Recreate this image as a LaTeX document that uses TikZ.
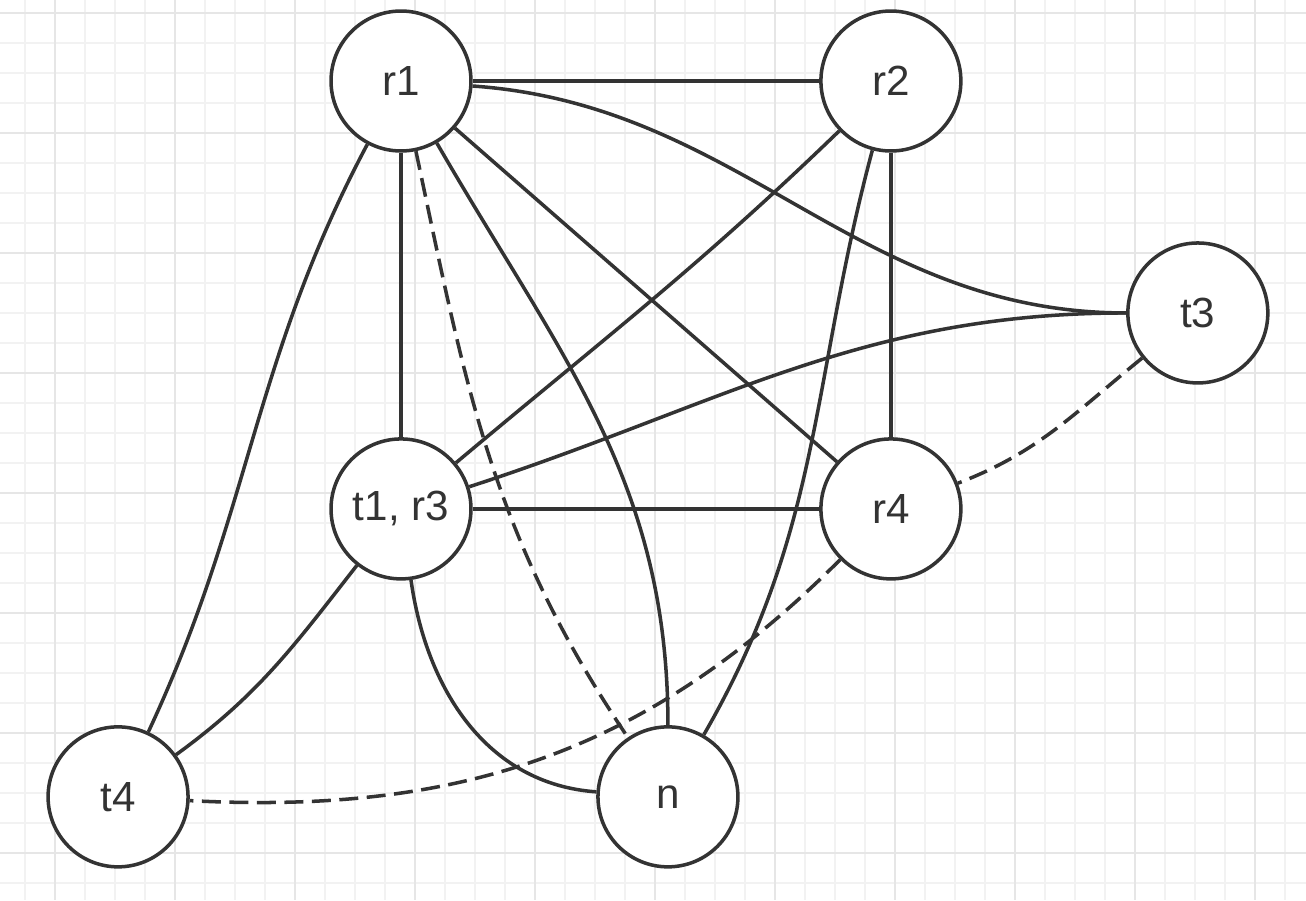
\documentclass[tikz,border=0pt]{standalone}
\usepackage{fontspec}
\setmainfont{Liberation Sans}
\usepackage{xcolor}
\usetikzlibrary{positioning}
\definecolor{edgegray}{HTML}{333333}
\definecolor{gridminor}{HTML}{F2F2F2}
\definecolor{gridmajor}{HTML}{E6E6E6}

\begin{document}
\begin{tikzpicture}[
    x=0.02cm, y=0.02cm,
    state/.style={circle, draw=edgegray, line width=2pt, fill=white, minimum size=2.8cm, inner sep=0pt, text=edgegray, font=\fontsize{24}{28}\selectfont},
    link/.style={draw=edgegray, line width=2pt},
    maybe/.style={link, dash pattern=on 0.38cm off 0.17cm},
    on grid
]
    \useasboundingbox (0,0) rectangle (1306,-900);
    \fill[white] (0,0) rectangle (1306,-900);
    % background grid
    \foreach \x in {25,55,...,1285} \draw[gridminor, line width=0.6pt] (\x,0) -- (\x,-900);
    \foreach \y in {13,43,...,883} \draw[gridminor, line width=0.6pt] (0,-\y) -- (1306,-\y);
    \foreach \x in {55,175,...,1255} \draw[gridmajor, line width=0.8pt] (\x,0) -- (\x,-900);
    \foreach \y in {13,133,...,853} \draw[gridmajor, line width=0.8pt] (0,-\y) -- (1306,-\y);

    \node[state] (r1) at (401,-81) {r1};
    \node[state, right=9.8cm of r1] (r2) {r2};
    \node[state, below=8.56cm of r1] (t1r3) {t1, r3};
    \node[state, right=9.8cm of t1r3] (r4) {r4};
    \node[state, below right=4.64cm and 6.14cm of r2] (t3) {t3};
    \node[state, below left=5.76cm and 5.66cm of t1r3] (t4) {t4};
    \node[state, below right=5.76cm and 5.34cm of t1r3] (n) {n};

    \draw[link] (r1) -- (r2);
    \draw[link] (r1) to[out=-4, in=180] (t3);
    \draw[link] (r1) -- (t1r3);
    \draw[maybe] (r1) to[out=-78, in=124] (n);
    \draw[link] (r1) to[out=-60, in=90] (n);
    \draw[link] (r1) -- (r4);
    \draw[link] (r1) to[out=-118, in=65] (t4);
    \draw[link] (r2) to[out=-136, in=40] (t1r3);
    \draw[link] (r2) -- (r4);
    \draw[link] (r2) to[out=-105, in=60] (n);
    \draw[link] (t3) to[out=180, in=18] (t1r3);
    \draw[maybe] (t3) to[out=-141, in=21] (r4);
    \draw[link] (t1r3) -- (r4);
    \draw[link] (t1r3) to[out=-128, in=36] (t4);
    \draw[link] (t1r3) to[out=-82, in=176] (n);
    \draw[maybe] (r4) to[out=-135, in=-3] (t4);
\end{tikzpicture}
\end{document}
